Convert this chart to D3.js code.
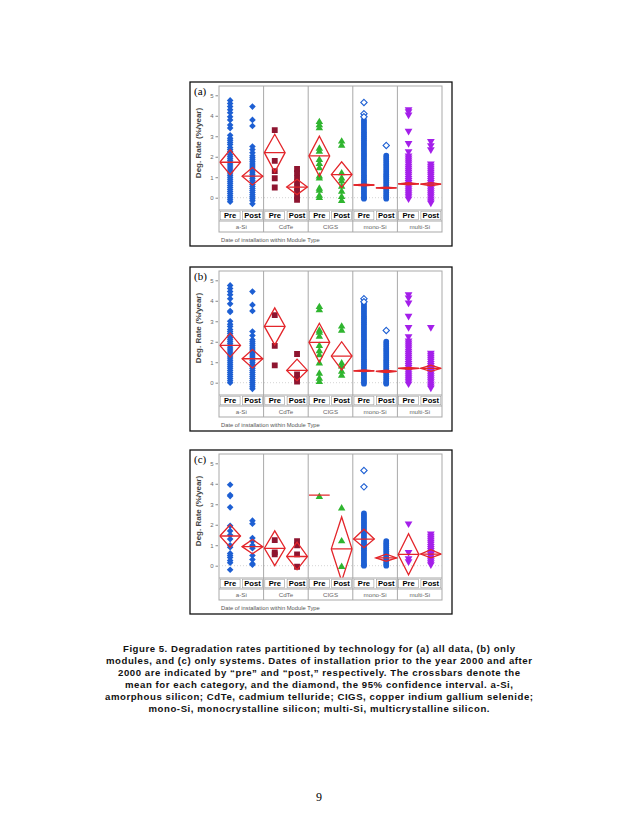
<!DOCTYPE html>
<html><head><meta charset="utf-8">
<script src="https://cdn.jsdelivr.net/npm/d3@7"></script>
<style>body{margin:0;background:#fff}</style>
</head><body>
<svg id="c" width="638" height="826" xmlns="http://www.w3.org/2000/svg"></svg>
<script>
// ---------------- DATA ----------------
const techs = ["a-Si", "CdTe", "CIGS", "mono-Si", "multi-Si"];
const periods = ["Pre", "Post"];
const yTicks = [0, 1, 2, 3, 4, 5];
const panelLabels = ["(a)", "(b)", "(c)"];
const xTitle = "Date of installation within Module Type";
const yTitle = "Deg. Rate (%/year)";

// order: a-Si Pre, a-Si Post, CdTe Pre, CdTe Post, CIGS Pre, CIGS Post, mono Pre, mono Post, multi Pre, multi Post
const pointsA = [
  [4.75,4.6,4.45,4.3,4.15,3.95,3.8,3.55,3.4,3.05,2.9,2.8,2.7,2.6,2.45,2.35,2.25,2.1,2.0,1.9,1.8,1.7,1.6,1.5,1.4,1.3,1.2,1.1,1.0,0.9,0.8,0.7,0.6,0.5,0.4,0.3,0.2,0.1,0.0,-0.1,-0.2],
  [4.45,3.8,3.5,2.5,2.35,2.2,2.05,1.95,1.85,1.75,1.65,1.55,1.45,1.35,1.25,1.15,1.05,0.95,0.85,0.75,0.65,0.55,0.45,0.35,0.25,0.15,0.05,-0.05,-0.15,-0.3],
  [3.3,1.8,1.3,0.95,0.5],
  [1.4,1.2,0.95,0.75,0.5,0.3,0.05,-0.1],
  [3.75,3.6,3.45,2.45,2.3,1.9,1.7,1.5,1.1,1.0,0.5,0.4,0.15,0.05],
  [2.8,2.6,1.25,1.0,0.85,0.6,0.35,0.1,-0.1],
  [3.8,3.7,3.6,3.5,3.4,3.3,3.2,3.1,3.0,2.9,2.8,2.7,2.6,2.5,2.4,2.3,2.2,2.1,2.0,1.9,1.8,1.7,1.6,1.5,1.4,1.3,1.2,1.1,1.0,0.9,0.8,0.7,0.6,0.5,0.4,0.3,0.2,0.1,0.0,-0.05],
  [2.05,1.95,1.85,1.75,1.65,1.55,1.45,1.35,1.25,1.15,1.05,0.95,0.85,0.75,0.65,0.55,0.45,0.35,0.25,0.15,0.05,-0.05],
  [4.25,4.15,4.0,3.2,2.6,2.2,2.0,1.9,1.8,1.7,1.6,1.5,1.4,1.3,1.2,1.1,1.0,0.9,0.8,0.7,0.6,0.5,0.4,0.3,0.2,0.1,0.0,-0.1],
  [2.7,2.5,2.3,1.6,1.5,1.4,1.3,1.2,1.1,1.0,0.9,0.8,0.7,0.6,0.5,0.4,0.3,0.2,0.1,0.0,-0.1,-0.2,-0.3]
];
const hollowA = [[],[],[],[],[],[],[4.65,4.1,3.95],[2.55],[],[]];
const meansA = [1.73, 1.05, 2.2, 0.52, 2.04, 1.13, 0.62, 0.48, 0.68, 0.66];
const ciLoA  = [1.12, 0.62, 1.25, 0.15, 1.05, 0.5, 0.58, 0.44, 0.63, 0.58];
const ciHiA  = [2.34, 1.47, 3.1, 0.9, 3.0, 1.75, 0.66, 0.52, 0.73, 0.74];

const pointsB = [
  [4.75,4.6,4.45,4.3,4.1,3.85,3.5,3.45,3.0,2.85,2.75,2.6,2.5,2.4,2.3,2.2,2.1,2.0,1.9,1.8,1.7,1.6,1.5,1.4,1.3,1.2,1.1,1.0,0.9,0.8,0.7,0.6,0.5,0.4,0.3,0.2,0.1,0.0],
  [4.45,3.8,3.5,2.5,2.3,2.1,2.0,1.9,1.8,1.7,1.6,1.5,1.4,1.3,1.2,1.1,1.0,0.9,0.8,0.7,0.6,0.5,0.4,0.3,0.2,0.1,0.0,-0.1,-0.2,-0.3],
  [3.3,1.8,0.85],
  [1.4,0.4,0.2,0.05],
  [3.75,3.6,2.6,2.5,2.3,1.85,1.6,1.4,1.0,0.5,0.25,0.1],
  [2.8,2.6,1.0,0.85,0.6,0.4],
  [3.85,3.75,3.65,3.55,3.45,3.35,3.25,3.15,3.05,2.95,2.85,2.75,2.65,2.55,2.45,2.35,2.25,2.15,2.05,1.95,1.85,1.75,1.65,1.55,1.45,1.35,1.25,1.15,1.05,0.95,0.85,0.75,0.65,0.55,0.45,0.35,0.25,0.15,0.05,-0.05],
  [2.0,1.9,1.8,1.7,1.6,1.5,1.4,1.3,1.2,1.1,1.0,0.9,0.8,0.7,0.6,0.5,0.4,0.3,0.2,0.1,0.0,-0.05],
  [4.25,4.1,3.85,3.2,2.65,2.2,2.0,1.9,1.8,1.7,1.6,1.5,1.4,1.3,1.2,1.1,1.0,0.9,0.8,0.7,0.6,0.5,0.4,0.3,0.2,0.1,0.0,-0.1],
  [2.65,1.4,1.3,1.2,1.1,1.0,0.9,0.8,0.7,0.6,0.5,0.4,0.3,0.2,0.1,0.0,-0.1,-0.2,-0.3]
];
const hollowB = [[],[],[],[],[],[],[4.1,3.95],[2.55],[],[]];
const meansB = [1.82, 1.17, 2.75, 0.6, 1.97, 1.3, 0.58, 0.55, 0.7, 0.7];
const ciLoB  = [1.25, 0.72, 1.85, 0.1, 1.0, 0.62, 0.54, 0.49, 0.65, 0.55];
const ciHiB  = [2.42, 1.62, 3.65, 1.15, 2.9, 2.0, 0.62, 0.61, 0.75, 0.85];

const pointsC = [
  [3.95,3.45,3.4,2.85,1.95,1.7,1.5,1.3,1.0,0.9,0.6,0.5,0.4,0.25,0.15,-0.2],
  [2.2,2.05,1.35,1.2,1.0,0.85,0.5,0.3,0.1,0.05],
  [1.25,0.65,0.55],
  [1.2,1.0,0.55,-0.05],
  [3.42],
  [2.85,1.25,0.0],
  [2.55,2.45,2.35,2.25,2.15,2.05,1.95,1.85,1.75,1.65,1.55,1.45,1.35,1.25,1.15,1.05,0.95,0.85,0.75,0.65,0.55,0.45,0.35,0.25,0.15,0.05,0.0],
  [1.2,1.1,1.0,0.9,0.8,0.7,0.6,0.5,0.4,0.3,0.2,0.1,0.0],
  [2.0,0.6,0.3,0.15],
  [1.5,1.4,1.3,1.2,1.1,1.0,0.9,0.8,0.7,0.6,0.5,0.4,0.3,0.2,0.1,0.0]
];
const hollowC = [[],[],[],[],[],[],[4.65,3.85],[],[],[]];
const meansC = [1.45, 0.93, 0.85, 0.45, 3.45, 0.82, 1.3, 0.38, 0.55, 0.57];
const ciLoC  = [0.9, 0.58, 0.0, -0.2, 3.45, -0.75, 0.88, 0.22, -0.45, 0.38];
const ciHiC  = [2.0, 1.28, 1.7, 1.15, 3.45, 2.38, 1.78, 0.56, 1.56, 0.78];

const captionLines = [
  "Figure 5.  Degradation rates partitioned by technology for (a) all data, (b) only",
  "modules, and (c) only systems. Dates of installation prior to the year 2000 and after",
  "2000 are indicated by \u201cpre\u201d and \u201cpost,\u201d respectively. The crossbars denote the",
  "mean for each category, and the diamond, the 95% confidence interval. a-Si,",
  "amorphous silicon; CdTe, cadmium telluride; CIGS, copper indium gallium selenide;",
  "mono-Si, monocrystalline silicon; multi-Si, multicrystalline silicon."
];
const pageNumber = "9";

// ---------------- STYLE ----------------
const techColor = ["#1d5fd3", "#8e1530", "#2fb52f", "#1d5fd3", "#a41fea"];
const techShape = ["diamond", "square", "triangle", "circle", "triangleDown"];
const redCol = "#e3262b";
const sans = "'Liberation Sans', Arial, sans-serif";
const captionWidths = [392, 426, 402, 388, 428, 341];

const diamondType = { draw(ctx, size) { const r = Math.sqrt(size / 2); ctx.moveTo(0, -r); ctx.lineTo(r, 0); ctx.lineTo(0, r); ctx.lineTo(-r, 0); ctx.closePath(); } };
const triDownType = { draw(ctx, size) { const s = Math.sqrt(size * 4 / Math.sqrt(3)); const h = s * Math.sqrt(3) / 2; ctx.moveTo(-s/2, -h/2); ctx.lineTo(s/2, -h/2); ctx.lineTo(0, h/2); ctx.closePath(); } };
const triUpType = { draw(ctx, size) { const s = Math.sqrt(size * 4 / Math.sqrt(3)); const h = s * Math.sqrt(3) / 2; ctx.moveTo(-s/2, h/2); ctx.lineTo(s/2, h/2); ctx.lineTo(0, -h/2); ctx.closePath(); } };
function symFor(shape) {
  if (shape === "diamond") return d3.symbol().type(diamondType).size(22);
  if (shape === "square") return d3.symbol().type(d3.symbolSquare).size(34);
  if (shape === "triangle") return d3.symbol().type(triUpType).size(24);
  if (shape === "circle") return d3.symbol().type(d3.symbolCircle).size(26);
  return d3.symbol().type(triDownType).size(26);
}

const svg = d3.select("#c");
svg.append("rect").attr("width", 638).attr("height", 826).attr("fill", "#fff");

const boxX0 = 190, boxX1 = 452, boxH = 164;
const plotX0 = 219, plotX1 = 442;
const panelTops = [82, 267, 450];
const panels = [
  { pts: pointsA, hol: hollowA, m: meansA, lo: ciLoA, hi: ciHiA },
  { pts: pointsB, hol: hollowB, m: meansB, lo: ciLoB, hi: ciHiB },
  { pts: pointsC, hol: hollowC, m: meansC, lo: ciLoC, hi: ciHiC }
];

const xTech = d3.scaleBand().domain(techs).range([plotX0, plotX1]);
const xPer = d3.scaleBand().domain(periods).range([0, xTech.bandwidth()]);

panels.forEach((p, pi) => {
  const T = panelTops[pi];
  const g = svg.append("g");
  const y = d3.scaleLinear().domain([0, 5]).range([T + 115.7, T + 13.3]);
  const dataTop = T + 4, dataBot = T + 128, rowMid = T + 139, rowBot = T + 150;

  g.append("rect").attr("x", boxX0).attr("y", T).attr("width", boxX1 - boxX0).attr("height", boxH)
    .attr("fill", "#fff").attr("stroke", "#111").attr("stroke-width", 1.3);

  g.append("text").attr("x", 194).attr("y", T + 13).text(panelLabels[pi])
    .attr("font-family", "'Liberation Serif', 'Times New Roman', serif").attr("font-size", 11).attr("fill", "#000");

  g.append("rect").attr("x", plotX0).attr("y", dataTop).attr("width", plotX1 - plotX0).attr("height", rowBot - dataTop)
    .attr("fill", "#fff").attr("stroke", "#a9a9a9").attr("stroke-width", 1);

  g.append("line").attr("x1", plotX0).attr("x2", plotX1).attr("y1", y(0)).attr("y2", y(0))
    .attr("stroke", "#c8c8c8").attr("stroke-width", 0.8).attr("stroke-dasharray", "1,2");

  const yAxis = d3.axisLeft(y).tickValues(yTicks).tickSize(2.5).tickPadding(2).tickFormat(d3.format("d"));
  const ya = g.append("g").attr("transform", `translate(${plotX0 - 1},0)`).call(yAxis);
  ya.select(".domain").remove();
  ya.selectAll("line").attr("stroke", "#888");
  ya.selectAll("text").attr("font-family", sans).attr("font-size", 6).attr("fill", "#666");

  g.append("text").attr("transform", `translate(201,${T + 61}) rotate(-90)`).attr("text-anchor", "middle")
    .attr("font-family", sans).attr("font-size", 8).attr("font-weight", "bold").attr("fill", "#444").text(yTitle);

  techs.slice(1).forEach(t => {
    g.append("line").attr("x1", xTech(t)).attr("x2", xTech(t)).attr("y1", dataTop).attr("y2", rowBot)
      .attr("stroke", "#a9a9a9").attr("stroke-width", 1);
  });
  g.append("line").attr("x1", plotX0).attr("x2", plotX1).attr("y1", dataBot).attr("y2", dataBot).attr("stroke", "#a9a9a9");
  g.append("line").attr("x1", plotX0).attr("x2", plotX1).attr("y1", rowMid).attr("y2", rowMid).attr("stroke", "#a9a9a9");
  techs.forEach(t => {
    periods.forEach(pr => {
      const x0 = xTech(t) + xPer(pr);
      g.append("rect").attr("x", x0 + 1.2).attr("y", dataBot + 1.2).attr("width", xPer.bandwidth() - 2.4).attr("height", rowMid - dataBot - 2.4)
        .attr("fill", "#fff").attr("stroke", "#9a9a9a").attr("stroke-width", 0.6);
      g.append("text").attr("x", x0 + xPer.bandwidth() / 2).attr("y", dataBot + 8.3).attr("text-anchor", "middle")
        .attr("font-family", sans).attr("font-size", 7.6).attr("font-weight", "bold").attr("fill", "#000").text(pr);
    });
    g.append("text").attr("x", xTech(t) + xTech.bandwidth() / 2).attr("y", rowMid + 7.8).attr("text-anchor", "middle")
      .attr("font-family", sans).attr("font-size", 6.2).attr("fill", "#666").text(t);
  });
  g.append("text").attr("x", 221).attr("y", T + 159.5).attr("font-family", sans).attr("font-size", 5.8).attr("fill", "#555").text(xTitle);

  const cid = "clip" + pi;
  svg.append("clipPath").attr("id", cid).append("rect").attr("x", plotX0 + 0.5).attr("y", dataTop + 0.5)
    .attr("width", plotX1 - plotX0 - 1).attr("height", dataBot - dataTop - 1);
  const mk = g.append("g").attr("clip-path", `url(#${cid})`);

  p.pts.forEach((vals, i) => {
    const ti = Math.floor(i / 2), pr = periods[i % 2];
    const cx = xTech(techs[ti]) + xPer(pr) + xPer.bandwidth() / 2;
    const sym = symFor(techShape[ti]);
    mk.append("g").selectAll("path").data(vals).join("path")
      .attr("transform", d => `translate(${cx},${y(d)})`).attr("d", sym())
      .attr("fill", techColor[ti]);
    mk.append("g").selectAll("path").data(p.hol[i]).join("path")
      .attr("transform", d => `translate(${cx},${y(d)})`).attr("d", d3.symbol().type(diamondType).size(20)())
      .attr("fill", "#fff").attr("stroke", techColor[ti]).attr("stroke-width", 1.1);
  });

  p.m.forEach((mv, i) => {
    const ti = Math.floor(i / 2), pr = periods[i % 2];
    const x0 = xTech(techs[ti]) + xPer(pr) + 0.8, x1 = x0 + xPer.bandwidth() - 1.6, xc = (x0 + x1) / 2;
    if (p.hi[i] !== p.lo[i]) {
      mk.append("path").attr("d", `M${x0},${y(mv)}L${xc},${y(p.hi[i])}L${x1},${y(mv)}L${xc},${y(p.lo[i])}Z`)
        .attr("fill", "none").attr("stroke", redCol).attr("stroke-width", 1.3).attr("stroke-linejoin", "miter");
    }
    mk.append("line").attr("x1", x0).attr("x2", x1).attr("y1", y(mv)).attr("y2", y(mv))
      .attr("stroke", redCol).attr("stroke-width", 1.3);
  });
});

// caption
const cap = svg.append("g");
captionLines.forEach((l, i) => {
  cap.append("text").attr("x", 319).attr("y", 652.3 + i * 11.9).attr("text-anchor", "middle")
    .attr("font-family", sans).attr("font-size", 9.6).attr("font-weight", "bold").attr("fill", "#111")
    .attr("textLength", captionWidths[i]).attr("lengthAdjust", "spacing").text(l);
});
svg.append("text").attr("x", 319).attr("y", 801).attr("text-anchor", "middle")
  .attr("font-family", "'Liberation Serif', 'Times New Roman', serif").attr("font-size", 12).attr("fill", "#000").text(pageNumber);
</script>
</body></html>
